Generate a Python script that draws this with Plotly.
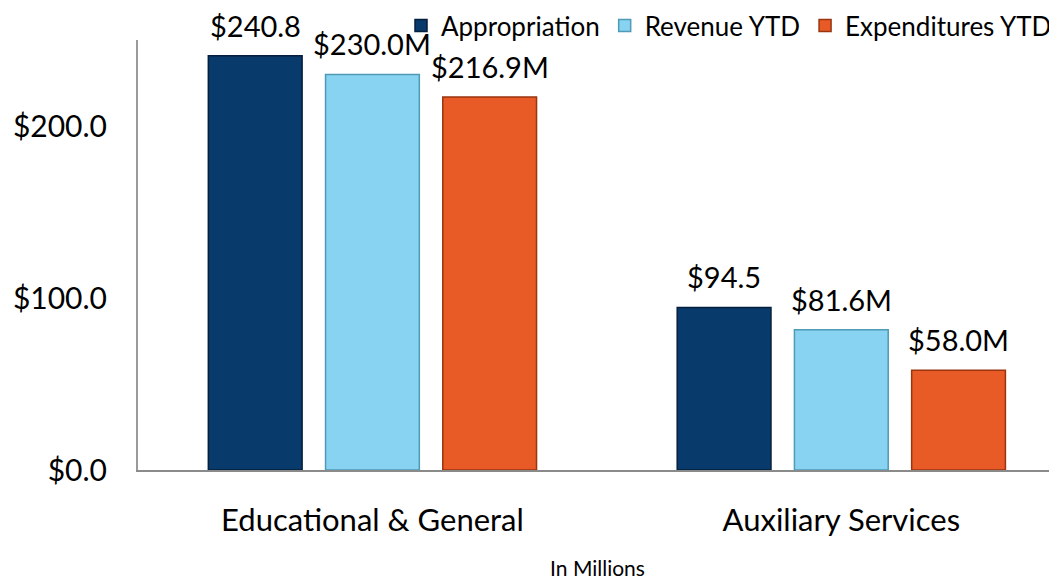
import plotly.graph_objects as go

categories = ["Educational & General", "Auxiliary Services"]
series_names = ["Appropriation", "Revenue YTD", "Expenditures YTD"]
appropriation = [240.8, 94.5]
revenue_ytd = [230.0, 81.6]
expenditures_ytd = [216.9, 58.0]
label_appropriation = ["$240.8", "$94.5"]
label_revenue = ["$230.0M", "$81.6M"]
label_expenditures = ["$216.9M", "$58.0M"]
tick_vals = [0, 100, 200]
tick_text = ["$0.0", "$100.0", "$200.0"]

colors = ["#083A6B", "#88D3F1", "#E85A26"]
edge_colors = ["#041f3d", "#4f9ab5", "#9a3510"]
values = [appropriation, revenue_ytd, expenditures_ytd]
labels = [label_appropriation, label_revenue, label_expenditures]

# the page body adds an 8px offset, so the figure is 8px smaller than the window
W, H = 1049, 572
ML, MR, MT, MB = 130, 0, 32, 110
XRANGE = [-0.5, 1.46]
BARGAP = 0.25
FONT = "Lato, Carlito, Calibri, sans-serif"

fig = go.Figure()
for name, vals, col, ec in zip(series_names, values, colors, edge_colors):
    fig.add_trace(go.Bar(
        name=name, x=categories, y=vals,
        marker=dict(color=col, line=dict(color=ec, width=1.5)),
    ))

# data labels placed above each bar
plot_w = W - ML - MR
plot_h = H - MT - MB
cat_px = plot_w / (XRANGE[1] - XRANGE[0])
slot_px = cat_px * (1 - BARGAP) / len(series_names)
annotations = []
for i, (vals, labs) in enumerate(zip(values, labels)):
    for cat, v, lab in zip(categories, vals, labs):
        annotations.append(dict(
            x=cat, y=v, xref="x", yref="y", text=lab, showarrow=False,
            xanchor="center", yanchor="bottom",
            xshift=(i - 1) * slot_px, yshift=11,
            font=dict(family=FONT, size=29, color="#000000"),
        ))

fig.update_layout(
    width=W, height=H,
    margin=dict(l=ML, r=MR, t=MT, b=MB, pad=0, autoexpand=False),
    paper_bgcolor="white", plot_bgcolor="white",
    barmode="group", bargap=BARGAP, bargroupgap=0.2,
    font=dict(family=FONT, color="#000000"),
    showlegend=True,
    legend=dict(
        orientation="h", x=1.0, xanchor="right",
        y=1.0 + (MT + 6) / plot_h, yanchor="top",
        font=dict(family=FONT, size=26, color="#000000"),
        itemwidth=30, tracegroupgap=0, bgcolor="rgba(0,0,0,0)",
    ),
    annotations=annotations,
    xaxis=dict(
        range=XRANGE, showgrid=False, zeroline=False, automargin=False,
        showline=True, linecolor="#8a8a8a", linewidth=2,
        ticks="", ticklabelstandoff=22,
        tickfont=dict(family=FONT, size=31, color="#000000"),
        title=dict(text="In Millions", standoff=30,
                   font=dict(family=FONT, size=21, color="#000000")),
    ),
    yaxis=dict(
        range=[0, 250], showgrid=False, zeroline=False, automargin=False,
        showline=True, linecolor="#9a9a9a", linewidth=2,
        tickvals=tick_vals, ticktext=tick_text, ticks="",
        ticklabelstandoff=23,
        tickfont=dict(family=FONT, size=30, color="#000000"),
    ),
)

fig.write_html("out.html")
